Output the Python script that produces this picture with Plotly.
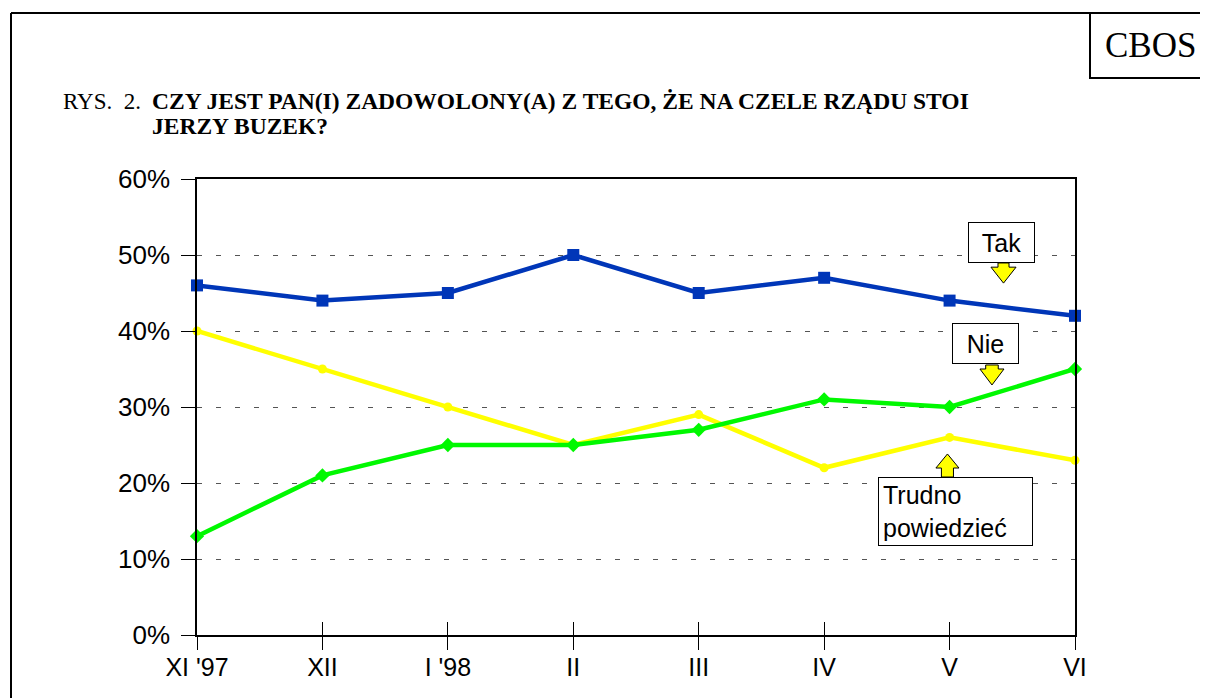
import plotly.graph_objects as go

months = ["XI '97", "XII", "I '98", "II", "III", "IV", "V", "VI"]
tak = [46, 44, 45, 50, 45, 47, 44, 42]
nie = [13, 21, 25, 25, 27, 31, 30, 35]
trudno = [40, 35, 30, 25, 29, 22, 26, 23]
y_ticks = [0, 10, 20, 30, 40, 50, 60]
y_labels = [f"{v}%" for v in y_ticks]

xs = list(range(len(months)))

# page has an 8px body margin; work in screen pixels and convert
OFF = 8
W, H = 1200, 690
L, R, T, B = 197 - OFF, 1075 - OFF, 179 - OFF, 635 - OFF


def px(x):
    return (x - OFF - L) / (R - L)


def py(y):
    return (B - (y - OFF)) / (B - T)


fig = go.Figure()
fig.add_trace(go.Scatter(x=xs, y=trudno, mode="lines+markers", name="Trudno powiedzieć",
                         line=dict(color="#FFFF00", width=4.5),
                         marker=dict(symbol="circle", size=9, color="#FFFF00"),
                         cliponaxis=False))
fig.add_trace(go.Scatter(x=xs, y=nie, mode="lines+markers", name="Nie",
                         line=dict(color="#00F800", width=4.5),
                         marker=dict(symbol="diamond", size=11, color="#00F800"),
                         cliponaxis=False))
fig.add_trace(go.Scatter(x=xs, y=tak, mode="lines+markers", name="Tak",
                         line=dict(color="#0036B8", width=4.5),
                         marker=dict(symbol="square", size=12, color="#0036B8"),
                         cliponaxis=False))
# invisible trace for the overlay axis (inside half of crossing ticks)
fig.add_trace(go.Scatter(x=xs, y=tak, xaxis="x2", mode="none", showlegend=False, hoverinfo="skip"))

axis_font = dict(family="Liberation Sans, Arial", size=25, color="black")

fig.update_layout(
    width=W, height=H,
    margin=dict(l=L, r=W - R, t=T, b=H - B, pad=0),
    paper_bgcolor="white", plot_bgcolor="white",
    showlegend=False,
    xaxis=dict(range=[0, 7], tickvals=xs, ticktext=months, ticks="outside", ticklen=13,
               tickwidth=1, tickcolor="black", showgrid=False, zeroline=False,
               showline=True, linecolor="black", linewidth=1.5, mirror=True,
               tickfont=axis_font, ticklabelstandoff=-4),
    xaxis2=dict(range=[0, 7], tickvals=xs, ticks="inside", ticklen=13, tickwidth=1,
                tickcolor="black", showticklabels=False, showgrid=False, zeroline=False,
                overlaying="x", anchor="y", side="bottom", showline=False),
    yaxis=dict(range=[0, 60], tickvals=y_ticks, ticktext=y_labels, ticks="outside",
               ticklen=14, tickwidth=1, tickcolor="black",
               showgrid=True, gridcolor="#555555", gridwidth=1, griddash="5px,14px",
               zeroline=False, showline=True, linecolor="black", linewidth=1.5, mirror=True,
               tickfont=dict(family="Liberation Sans, Arial", size=26, color="black"),
               ticklabelstandoff=6),
)


def block_arrow(xc, y_base, y_neck, y_tip, shaft_half=0.044, head_half=0.1):
    path = (f"M {xc - shaft_half} {y_base} L {xc - shaft_half} {y_neck} "
            f"L {xc - head_half} {y_neck} L {xc} {y_tip} L {xc + head_half} {y_neck} "
            f"L {xc + shaft_half} {y_neck} L {xc + shaft_half} {y_base} Z")
    return dict(type="path", path=path, xref="x", yref="y", fillcolor="#FFFF00",
                line=dict(color="black", width=1), layer="above")


shapes = [
    # outer frame
    dict(type="line", xref="paper", yref="paper", x0=px(11), x1=px(1215), y0=py(13), y1=py(13),
         line=dict(color="black", width=2)),
    dict(type="line", xref="paper", yref="paper", x0=px(11), x1=px(11), y0=py(13), y1=py(705),
         line=dict(color="black", width=2)),
    # CBOS box
    dict(type="rect", xref="paper", yref="paper", x0=px(1090), x1=px(1215), y0=py(78), y1=py(13),
         line=dict(color="black", width=2), fillcolor="rgba(0,0,0,0)"),
    block_arrow(6.43, 48.95, 48.4, 46.3, 0.044, 0.1),
    block_arrow(6.338, 35.53, 35.0, 32.9, 0.05, 0.096),
    block_arrow(5.983, 20.79, 21.97, 23.82, 0.048, 0.092),
]
fig.update_layout(shapes=shapes)

serif = "Liberation Serif, Times New Roman"
lab_font = dict(family="Liberation Sans, Arial", size=25, color="black")
annotations = [
    dict(text="CBOS", x=px(1150), y=py(46), xref="paper", yref="paper", showarrow=False,
         font=dict(family=serif, size=35, color="black"), xanchor="center", yanchor="middle"),
    dict(text="RYS.  2.", x=px(61), y=py(101), xref="paper", yref="paper", showarrow=False,
         font=dict(family=serif, size=23, color="black"), xanchor="left", yanchor="middle"),
    dict(text="<b>CZY JEST PAN(I) ZADOWOLONY(A) Z TEGO, ŻE NA CZELE RZĄDU STOI</b>",
         x=px(150), y=py(101), xref="paper", yref="paper", showarrow=False,
         font=dict(family=serif, size=23.5, color="black"), xanchor="left", yanchor="middle"),
    dict(text="<b>JERZY BUZEK?</b>",
         x=px(150), y=py(126), xref="paper", yref="paper", showarrow=False,
         font=dict(family=serif, size=23.5, color="black"), xanchor="left", yanchor="middle"),
    dict(text="Tak", x=6.414, y=51.64, xref="x", yref="y", showarrow=False, font=lab_font,
         bgcolor="white", bordercolor="black", borderwidth=1, borderpad=1, width=63, height=37),
    dict(text="Nie", x=6.286, y=38.36, xref="x", yref="y", showarrow=False, font=lab_font,
         bgcolor="white", bordercolor="black", borderwidth=1, borderpad=1, width=63, height=37),
    dict(text="Trudno<br>powiedzieć", x=6.047, y=16.25, xref="x", yref="y", showarrow=False,
         font=lab_font, align="left", bgcolor="white", bordercolor="black", borderwidth=1,
         borderpad=4, width=145, height=59),
]
fig.update_layout(annotations=annotations)

fig.write_html("out.html")
